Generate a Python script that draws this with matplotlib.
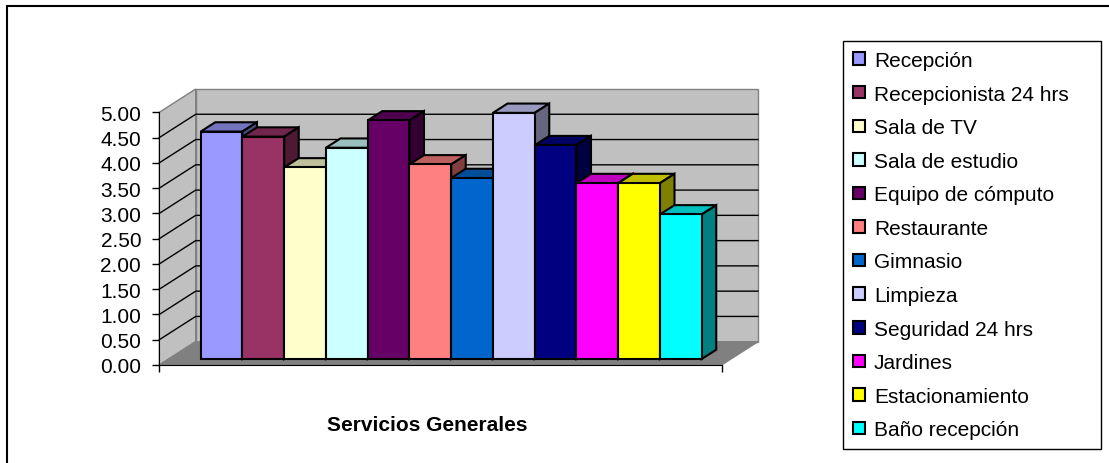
import numpy as np
import matplotlib
matplotlib.use("Agg")
import matplotlib.pyplot as plt
from matplotlib.patches import Polygon, Rectangle
from matplotlib.colors import to_rgb

# data
categories = ["Recepción", "Recepcionista 24 hrs", "Sala de TV", "Sala de estudio",
              "Equipo de cómputo", "Restaurante", "Gimnasio", "Limpieza",
              "Seguridad 24 hrs", "Jardines", "Estacionamiento", "Baño recepción"]
values = [4.50, 4.40, 3.79, 4.18, 4.72, 3.85, 3.58, 4.87, 4.23, 3.48, 3.48, 2.86]
colors = ["#9999FF", "#993366", "#FFFFCC", "#CCFFFF", "#660066", "#FF8080",
          "#0066CC", "#CCCCFF", "#000080", "#FF00FF", "#FFFF00", "#00FFFF"]
y_ticks = np.arange(0, 5.01, 0.5)
group_label = "Servicios Generales"

W, H = 1109, 464
plt.rcParams['font.family'] = ['Liberation Sans', 'DejaVu Sans']
fig = plt.figure(figsize=(W / 100, H / 100), dpi=100)

# layout of the fake 3d box, in pixels (oblique projection)
px_per_u = 41.75    # one bar width
px_per_v = 50.54    # one value unit
x_zero = 212.2      # px of u=0 on the front plane
y_zero = 366.0      # px (from top) of v=0 on the front plane
ax_l, ax_r, ax_t, ax_b = 100, 800, 40, 392
ax = fig.add_axes([ax_l / W, 1 - ax_b / H, (ax_r - ax_l) / W, (ax_b - ax_t) / H])
ax.set_xlim((ax_l - x_zero) / px_per_u, (ax_r - x_zero) / px_per_u)
ax.set_ylim((y_zero - ax_b) / px_per_v, (y_zero - ax_t) / px_per_v)
ax.patch.set_visible(False)

dx, dy = 36.4 / px_per_u, 23.3 / px_per_v   # full floor depth in data units
u_left, u_right = -1.267, 12.2
vmax = y_ticks[-1]
f1, f2 = 0.257, 0.657   # depth of bar front and back faces

wall = '#C0C0C0'
edge = '#808080'
ax.add_patch(Polygon([(u_left, 0), (u_left, vmax), (u_left + dx, vmax + dy), (u_left + dx, dy)],
                     fc=wall, ec=edge, lw=1, zorder=1))
ax.add_patch(Rectangle((u_left + dx, dy), u_right - u_left, vmax, fc=wall, ec=edge, lw=1, zorder=1))
ax.add_patch(Polygon([(u_left, 0), (u_right, 0), (u_right + dx, dy), (u_left + dx, dy)],
                     fc='#808080', ec=edge, lw=1, zorder=1))
for v in y_ticks[1:-1]:
    ax.plot([u_left, u_left + dx, u_right + dx], [v, v + dy, v + dy], color='black', lw=1, zorder=2)

# bars, left to right so each one hides the side of the previous
for i, (name, v, c) in enumerate(zip(categories, values, colors)):
    z = 3 + i
    ax.bar(i + f1 * dx, v, width=1, bottom=f1 * dy, color=c, edgecolor='black', lw=1.5,
           label=name, zorder=z + 0.5)
    rgb = np.array(to_rgb(c))
    x0, x1 = i - 0.5, i + 0.5
    top = [(x0 + f1 * dx, v + f1 * dy), (x1 + f1 * dx, v + f1 * dy),
           (x1 + f2 * dx, v + f2 * dy), (x0 + f2 * dx, v + f2 * dy)]
    side = [(x1 + f1 * dx, f1 * dy), (x1 + f2 * dx, f2 * dy),
            (x1 + f2 * dx, v + f2 * dy), (x1 + f1 * dx, v + f1 * dy)]
    ax.add_patch(Polygon(top, fc=rgb * 0.75, ec='black', lw=1.5, zorder=z))
    ax.add_patch(Polygon(side, fc=rgb * 0.5, ec='black', lw=1.5, zorder=z))

for s in ['top', 'right']:
    ax.spines[s].set_visible(False)
ax.spines['left'].set_position(('data', u_left))
ax.spines['left'].set_bounds(0, vmax)
ax.spines['bottom'].set_position(('data', 0))
ax.spines['bottom'].set_bounds(u_left, u_right)
ax.set_yticks(y_ticks, [f"{t:.2f}" for t in y_ticks])
ax.set_xticks([u_left, u_right], ['', ''])
ax.tick_params(length=5, width=1, pad=8, labelsize=15, color='black')

fig.text(427 / W, 1 - 426 / H, group_label, ha='center', va='center',
         fontsize=15, fontweight='bold')

leg = fig.legend(loc='upper left', bbox_to_anchor=(843 / W, 1 - 449 / H, 258 / W, 407 / H),
                 mode='expand', fontsize=15, handlelength=0.6, handleheight=0.55,
                 handletextpad=0.41, labelspacing=0.70, borderpad=0.48, borderaxespad=0,
                 fancybox=False, edgecolor='black', framealpha=1)
leg.get_frame().set_linewidth(1)

fig.add_artist(Rectangle((7 / W, -0.5), 1.5, 1.5 - 7 / H, transform=fig.transFigure,
                         fill=False, ec='black', lw=1.5))

fig.savefig('out.png', dpi=100)
